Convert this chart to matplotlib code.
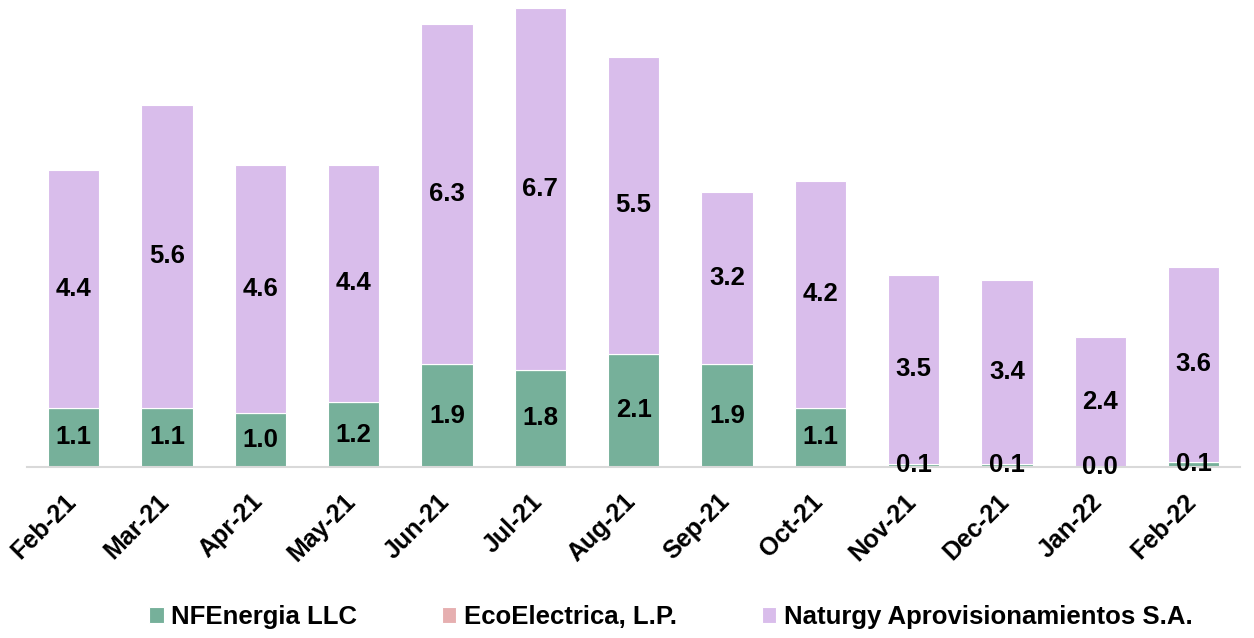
import matplotlib
matplotlib.use('Agg')
from matplotlib import pyplot as plt
from matplotlib.transforms import ScaledTranslation
import numpy as np

months = ['Feb-21', 'Mar-21', 'Apr-21', 'May-21', 'Jun-21', 'Jul-21', 'Aug-21',
          'Sep-21', 'Oct-21', 'Nov-21', 'Dec-21', 'Jan-22', 'Feb-22']
nfenergia = [1.1, 1.1, 1.0, 1.2, 1.9, 1.8, 2.1, 1.9, 1.1, 0.06, 0.06, 0.0, 0.1]
ecoelectrica = [0] * 13
naturgy = [4.4, 5.6, 4.6, 4.4, 6.3, 6.7, 5.5, 3.2, 4.2, 3.5, 3.4, 2.4, 3.6]

plt.rcParams['font.family'] = ['Liberation Sans', 'DejaVu Sans']
plt.rcParams['font.weight'] = 'bold'

green = '#76b09a'
pink = '#e6afb0'
lavender = '#d9bdeb'

fig = plt.figure(figsize=(12.54, 6.38), dpi=100)
ax = fig.add_axes([0.0215, 0.268, 0.9675, 0.7195])

x = np.arange(len(months))
w = 0.55
b1 = ax.bar(x, nfenergia, w, color=green, edgecolor='white', linewidth=0.8, label='NFEnergia LLC')
b2 = ax.bar(x, ecoelectrica, w, bottom=nfenergia, color=pink, edgecolor='white', linewidth=0.8,
            label='EcoElectrica, L.P.')
bottom2 = np.array(nfenergia) + np.array(ecoelectrica)
b3 = ax.bar(x, naturgy, w, bottom=bottom2, color=lavender, edgecolor='white', linewidth=0.8,
            label='Naturgy Aprovisionamientos S.A.')

for i in x:
    ax.text(i, nfenergia[i] / 2, '%.1f' % nfenergia[i], ha='center', va='center',
            fontsize=18.5, fontweight='bold')
    ax.text(i, bottom2[i] + naturgy[i] / 2, '%.1f' % naturgy[i], ha='center', va='center',
            fontsize=18.5, fontweight='bold')

ax.set_xlim(-0.5, 12.5)
ax.set_ylim(0, 8.5)
ax.set_yticks([])
for s in ['top', 'right', 'left']:
    ax.spines[s].set_visible(False)
ax.spines['bottom'].set_color('#d9d9d9')
ax.spines['bottom'].set_linewidth(1.5)
ax.set_xticks(x)
ax.set_xticklabels(months, rotation=45, ha='right', rotation_mode='anchor',
                   fontsize=18, fontweight='bold')
ax.tick_params(axis='x', length=0, pad=16)
shift = ScaledTranslation(-0.10, 0, fig.dpi_scale_trans)
for lbl in ax.get_xticklabels():
    lbl.set_transform(lbl.get_transform() + shift)

fig.legend(handles=[b1, b2, b3], loc='lower center', bbox_to_anchor=(0.535, -0.022), ncol=3,
           frameon=False, handlelength=0.55, handleheight=0.55,
           handletextpad=0.3, columnspacing=3.3, prop={'weight': 'bold', 'size': 18.5})

fig.savefig('out.png', dpi=100)
